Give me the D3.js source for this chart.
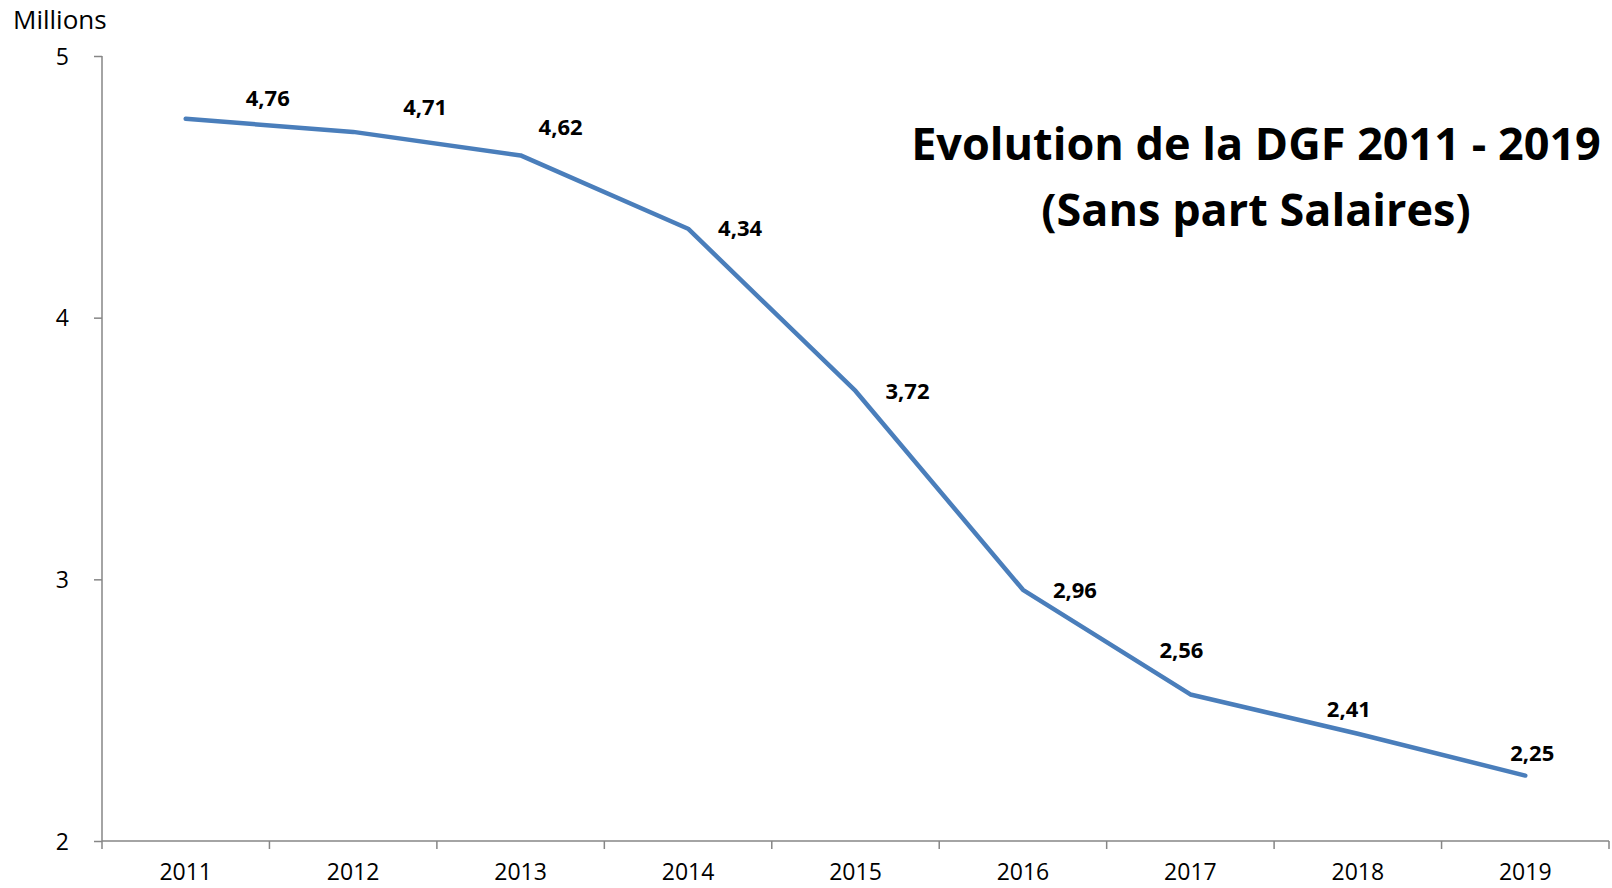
<!DOCTYPE html>
<html>
<head>
<meta charset="utf-8">
<script src="https://cdn.jsdelivr.net/npm/d3@7"></script>
<style>
  body { margin: 0; background: #fff; }
  svg text { font-family: "Open Sans", "Liberation Sans", sans-serif; fill: #000; }
</style>
</head>
<body>
<svg width="1612" height="888"></svg>
<script>
var years = ["2011", "2012", "2013", "2014", "2015", "2016", "2017", "2018", "2019"];
var dgf = [4.76, 4.71, 4.62, 4.34, 3.72, 2.96, 2.56, 2.41, 2.25];
var labels = ["4,76", "4,71", "4,62", "4,34", "3,72", "2,96", "2,56", "2,41", "2,25"];
var yTicks = [2, 3, 4, 5];

// hand-placed label offsets, like the source chart
var labelDx = [82, 72, 40, 52, 52, 52, -9, -9, 7];
var labelDy = [-21, -25, -28, 0, 0, 0, -44, -24, -22];

var width = 1612, height = 888;
var mLeft = 102, mRight = 1609, mTop = 56, mBottom = 841;

var svg = d3.select("svg");

var x = d3.scaleBand().domain(years).range([mLeft, mRight]);
var y = d3.scaleLinear().domain([2, 5]).range([mBottom, mTop]);

var axisColor = "#868686";

// y axis
var yAxis = svg.append("g")
    .attr("transform", "translate(" + mLeft + ",0)")
    .call(d3.axisLeft(y).tickValues(yTicks).tickSize(8).tickFormat(d3.format("d")));
yAxis.select(".domain").attr("stroke", axisColor).attr("stroke-width", 1.5).attr("d", "M0," + mTop + "V" + mBottom);
yAxis.selectAll(".tick line").attr("stroke", axisColor).attr("stroke-width", 1.5);
yAxis.selectAll(".tick text").attr("x", -33).style("font-size", "23px").attr("dy", "0.35em").attr("fill", "#000");

// x axis, ticks sit on band edges
var xAxis = svg.append("g").attr("transform", "translate(0," + mBottom + ")");
xAxis.append("line")
    .attr("x1", mLeft).attr("x2", mRight)
    .attr("stroke", axisColor).attr("stroke-width", 1.5);
xAxis.selectAll("line.edge")
    .data(years.concat(["end"]))
    .enter().append("line")
    .attr("class", "edge")
    .attr("x1", function(d, i) { return mLeft + i * x.bandwidth(); })
    .attr("x2", function(d, i) { return mLeft + i * x.bandwidth(); })
    .attr("y1", 0).attr("y2", 8)
    .attr("stroke", axisColor).attr("stroke-width", 1.5);
xAxis.selectAll("text")
    .data(years)
    .enter().append("text")
    .attr("x", function(d) { return x(d) + x.bandwidth() / 2; })
    .attr("y", 39)
    .attr("text-anchor", "middle")
    .style("font-size", "23px")
    .text(function(d) { return d; });

// units
svg.append("text")
    .attr("x", 13).attr("y", 29)
    .style("font-size", "26px")
    .text("Millions");

// line
var line = d3.line()
    .x(function(d, i) { return x(years[i]) + x.bandwidth() / 2; })
    .y(function(d) { return y(d); });

svg.append("path")
    .datum(dgf)
    .attr("fill", "none")
    .attr("stroke", "#4a7ebb")
    .attr("stroke-width", 4.5)
    .attr("stroke-linejoin", "round")
    .attr("stroke-linecap", "round")
    .attr("d", line);

// data labels
svg.selectAll("text.lbl")
    .data(dgf)
    .enter().append("text")
    .attr("class", "lbl")
    .attr("x", function(d, i) { return x(years[i]) + x.bandwidth() / 2 + labelDx[i]; })
    .attr("y", function(d, i) { return y(d) + labelDy[i]; })
    .attr("dy", "0.35em")
    .attr("text-anchor", "middle")
    .style("font-size", "22px")
    .style("font-weight", "bold")
    .text(function(d, i) { return labels[i]; });

// title
var title = svg.append("text")
    .attr("text-anchor", "middle")
    .style("font-size", "45px")
    .style("font-weight", "bold");
title.append("tspan").attr("x", 1256).attr("y", 160).text("Evolution de la DGF 2011 - 2019");
title.append("tspan").attr("x", 1256).attr("y", 226).text("(Sans part Salaires)");
</script>
</body>
</html>
